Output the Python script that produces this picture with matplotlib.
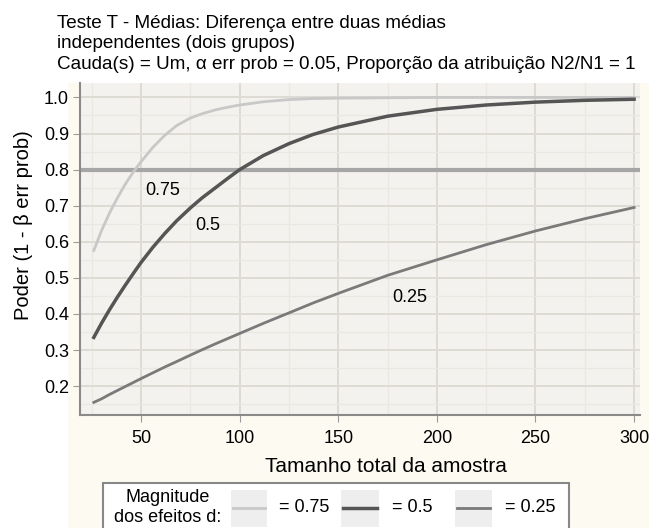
import matplotlib
matplotlib.use('Agg')
from matplotlib import pyplot as plt
from matplotlib.lines import Line2D
from matplotlib.patches import Rectangle
from matplotlib.ticker import MultipleLocator

plt.rcParams['font.family'] = ['Liberation Sans', 'DejaVu Sans']

# sample sizes (total) and read-off power values
n_total = [26, 30, 34, 38, 42, 46, 50, 56, 62, 68, 75, 81, 88, 94, 100,
           112, 125, 137, 150, 175, 200, 225, 250, 275, 300]
power_075 = [0.576, 0.632, 0.68, 0.722, 0.76, 0.793, 0.822, 0.862, 0.895, 0.922,
             0.943, 0.955, 0.966, 0.973, 0.979, 0.988, 0.994, 0.997, 0.998, 0.999,
             1.0, 1.0, 1.0, 1.0, 1.0]
power_050 = [0.335, 0.375, 0.412, 0.447, 0.48, 0.512, 0.543, 0.585, 0.623, 0.658,
             0.694, 0.722, 0.751, 0.776, 0.80, 0.839, 0.872, 0.897, 0.918, 0.948,
             0.967, 0.979, 0.987, 0.992, 0.995]
power_025 = [0.155, 0.165, 0.177, 0.188, 0.199, 0.21, 0.221, 0.237, 0.253, 0.268,
             0.286, 0.301, 0.318, 0.332, 0.346, 0.374, 0.403, 0.43, 0.457, 0.507,
             0.55, 0.592, 0.63, 0.664, 0.695]
target_power = 0.8

effect_labels = ['0.75', '0.5', '0.25']
label_pos = [(61, 0.742), (84, 0.645), (186, 0.446)]
colors = ['#c8c8c8', '#555555', '#7a7a7a']
widths = [2.0, 2.5, 2.0]

W, H = 649, 528
fig = plt.figure(figsize=(W / 100, H / 100), dpi=100, facecolor='white')

# cream background behind the plot area
fig.add_artist(Rectangle((68 / W, 0), 1 - 68 / W, 1 - 83 / H, transform=fig.transFigure,
                         facecolor='#fdfbf1', edgecolor='none', zorder=0))

ax = fig.add_axes([80 / W, 1 - 415 / H, 560 / W, (415 - 83) / H])
ax.set_facecolor('#f4f2ee')

ax.xaxis.set_major_locator(MultipleLocator(50))
ax.xaxis.set_minor_locator(MultipleLocator(25))
ax.yaxis.set_major_locator(MultipleLocator(0.1))
ax.yaxis.set_minor_locator(MultipleLocator(0.05))
ax.grid(which='major', color='#dedbd5', linewidth=1.4)
ax.grid(which='minor', color='#ebe8e3', linewidth=1.0)
ax.set_axisbelow(True)

ax.axhline(target_power, color='#a6a6a6', linewidth=3, zorder=1)

series = [power_075, power_050, power_025]
for vals, lab, pos, c, w in zip(series, effect_labels, label_pos, colors, widths):
    ax.plot(n_total, vals, color=c, linewidth=w, zorder=3)
    ax.text(pos[0], pos[1], lab, fontsize=13, ha='center', va='center', zorder=4)

ax.set_xlim(19, 303)
ax.set_ylim(0.12, 1.04)
ax.set_xticks([50, 100, 150, 200, 250, 300])
ax.set_yticks([0.2, 0.3, 0.4, 0.5, 0.6, 0.7, 0.8, 0.9, 1.0])
ax.set_yticklabels(['0.2', '0.3', '0.4', '0.5', '0.6', '0.7', '0.8', '0.9', '1.0'])

for side in ['top', 'right']:
    ax.spines[side].set_visible(False)
for side in ['left', 'bottom']:
    ax.spines[side].set_color('#8a8a8a')
    ax.spines[side].set_linewidth(1.5)
ax.tick_params(which='major', length=5, color='#999999', labelsize=13)
ax.tick_params(axis='x', pad=6)
ax.tick_params(axis='y', pad=3)
ax.tick_params(which='minor', length=0)

ax.set_xlabel('Tamanho total da amostra', fontsize=15)
ax.xaxis.set_label_coords((386 - 80) / 560, -(457 - 415) / 332)
ax.set_ylabel('Poder (1 - β err prob)', fontsize=14.5)
ax.yaxis.set_label_coords(-(80 - 33) / 560, (415 - 225) / 332)

title_lines = ['Teste T - Médias: Diferença entre duas médias',
               'independentes (dois grupos)',
               'Cauda(s) = Um, α err prob = 0.05, Proporção da atribuição N2/N1 = 1']
for i, line in enumerate(title_lines):
    fig.text(57 / W, 1 - (28 + 20.5 * i) / H, line, fontsize=13.6, va='baseline', ha='left')

# legend box at the bottom
fig.add_artist(Rectangle((103 / W, -0.05), (569 - 103) / W, 0.05 + 1 - 483 / H,
                         transform=fig.transFigure, facecolor='white',
                         edgecolor='#888888', linewidth=1.5, zorder=2))
fig.text(168 / W, 1 - 498 / H, 'Magnitude', fontsize=13, ha='center', va='center', zorder=3)
fig.text(168 / W, 1 - 518 / H, 'dos efeitos d:', fontsize=13, ha='center', va='center', zorder=3)
samples = [(233, 265, 279), (343, 377, 392), (457, 490, 505)]
for (x0, x1, xt), lab, c, w in zip(samples, effect_labels, colors, widths):
    fig.add_artist(Rectangle(((x0 - 2) / W, 1 - 527 / H), (x1 - x0 + 4) / W, 37 / H,
                             transform=fig.transFigure, facecolor='#eeeeee',
                             edgecolor='none', zorder=3))
    fig.add_artist(Line2D([x0 / W, x1 / W], [1 - 508 / H, 1 - 508 / H],
                          transform=fig.transFigure, color=c, linewidth=w, zorder=4))
    fig.text(xt / W, 1 - 508 / H, '= ' + lab, fontsize=13, ha='left', va='center', zorder=4)

fig.savefig('out.png', dpi=100)
